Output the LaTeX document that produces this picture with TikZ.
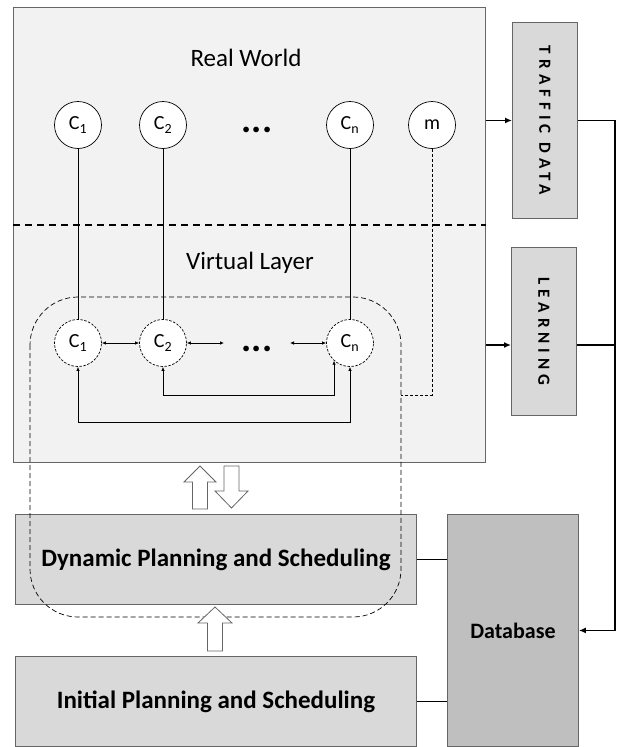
\documentclass[tikz,border=0pt]{standalone}
\usepackage{fontspec}
\setmainfont{Carlito}
\usetikzlibrary{arrows.meta}
\definecolor{worldfill}{HTML}{F2F2F2}
\definecolor{boxfill}{HTML}{D9D9D9}
\definecolor{dbfill}{HTML}{BFBFBF}
\definecolor{edge}{HTML}{666666}
\tikzset{
  panel/.style={draw=edge, line width=0.9pt, anchor=north west, inner sep=0pt},
  realnode/.style={circle, draw=black, line width=0.7pt, fill=white, minimum size=47pt, inner sep=0pt, font=\fontsize{20}{20}\selectfont},
  virtnode/.style={circle, draw=black, dashed, dash pattern=on 2.5pt off 1.5pt, line width=0.7pt, fill=white, minimum size=47pt, inner sep=0pt, font=\fontsize{20}{20}\selectfont},
  thinline/.style={line width=0.7pt},
  small2/.style={line width=0.7pt, {Latex[length=4pt,width=3.5pt]}-{Latex[length=4pt,width=3.5pt]}},
  bigarrow/.style={line width=1.6pt, -{Latex[length=7pt,width=6pt]}},
  busline/.style={line width=1.6pt},
  hollow/.style={draw=edge, fill=white, line width=0.8pt},
  spaced/.style={font=\fontsize{17}{17}\selectfont\bfseries\addfontfeature{LetterSpace=30}, rotate=-90},
  biglabel/.style={font=\fontsize{25}{25}\selectfont\bfseries},
  dblabel/.style={font=\fontsize{22}{22}\selectfont\bfseries},
  layerlabel/.style={font=\fontsize{25}{25}\selectfont},
  ellip/.style={font=\fontsize{38}{38}\selectfont\bfseries, inner sep=0pt}
}
\begin{document}
\begin{tikzpicture}[x=1pt, y=-1pt]
\useasboundingbox (0,0) rectangle (620,747);
% panels
\node[panel, fill=worldfill, minimum width=472pt, minimum height=455pt] (world) at (13,7) {};
\node[panel, fill=boxfill, minimum width=65pt, minimum height=196pt] (traffic) at (512,22) {};
\node[panel, fill=boxfill, minimum width=65pt, minimum height=168pt] (learning) at (511,247) {};
\node[panel, fill=boxfill, minimum width=401pt, minimum height=90pt] (dyn) at (15,514) {};
\node[panel, fill=boxfill, minimum width=401pt, minimum height=90pt] (init) at (15,656) {};
\node[panel, fill=dbfill, minimum width=131pt, minimum height=232pt] (db) at (447,514) {};
% labels of panels
\node[spaced] (trafficlbl) at (traffic.center) {TRAFFIC DATA};
\node[spaced] (learninglbl) at (learning.center) {LEARNING};
\node[biglabel] (dynlbl) at (dyn.center) {Dynamic Planning and Scheduling};
\node[biglabel] (initlbl) at (init.center) {Initial Planning and Scheduling};
\node[dblabel] (dblbl) at (db.center) {Database};
\node[layerlabel] (rwlbl) at (246,58) {Real World};
\node[layerlabel] (vllbl) at (250,263) {Virtual Layer};
% layer separator
\draw[line width=1.6pt, dash pattern=on 7pt off 5pt] (world.west |- 0,225) -- (world.east |- 0,225);
% dashed rounded region
\draw[dashed, dash pattern=on 5pt off 3pt, line width=0.7pt, rounded corners=48pt] (30,297) rectangle (401,617);
\coordinate (mend) at (401,395);
% real world nodes
\node[realnode] (c1t) at (78,125) {C\textsubscript{1}};
\node[realnode] (c2t) at (163,125) {C\textsubscript{2}};
\node[realnode] (cnt) at (350,125) {C\textsubscript{n}};
\node[realnode] (mt) at (432,125) {m};
\node[ellip] (dotst) at (257,130) {...};
% virtual nodes
\node[virtnode] (c1v) at (78,343) {C\textsubscript{1}};
\node[virtnode] (c2v) at (163,343) {C\textsubscript{2}};
\node[virtnode] (cnv) at (350,343) {C\textsubscript{n}};
\node[ellip] (dotsv) at (257,349) {...};
% vertical links
\draw[thinline] (c1t) -- (c1v);
\draw[thinline] (c2t) -- (c2v);
\draw[thinline] (cnt) -- (cnv);
\draw[thinline, dash pattern=on 3pt off 2pt] (mt.south) |- (mend);
% virtual links
\coordinate (a1) at (224,343);
\coordinate (a2) at (290,343);
\coordinate (fb1) at (0,395);
\coordinate (fb2) at (0,422);
\draw[small2] (c1v) -- (c2v);
\draw[small2] (c2v.east) -- (a1);
\draw[small2] (a2) -- (cnv.west);
\draw[small2] (c2v.south) -- (c2v.south |- fb1) -| (cnv.228);
\draw[small2] (c1v.south) -- (c1v.south |- fb2) -| (cnv.south);
% arrows to side boxes
\coordinate (la) at (0,345);
\coordinate (rail) at (615,0);
\draw[bigarrow] (world.east |- traffic.west) -- (traffic.west);
\draw[bigarrow] (world.east |- la) -- (learning.west |- la);
\draw[busline, -{Latex[length=7pt,width=6pt]}] (traffic.east) -| (rail |- db.east) -- (db.east);
\draw[busline] (learning.east |- la) -- (rail |- la);
\draw[busline] (dyn.east) -- (db.west |- dyn.east);
\draw[busline] (init.east) -- (db.west |- init.east);
% hollow arrows
\draw[hollow] (200,466) -- (216,482) -- (207.5,482) -- (207.5,509) -- (192.5,509) -- (192.5,482) -- (184,482) -- cycle;
\draw[hollow] (231.5,508) -- (248,491) -- (239,491) -- (239,466) -- (224,466) -- (224,491) -- (215,491) -- cycle;
\draw[hollow] (215,607) -- (232,623) -- (222.5,623) -- (222.5,651) -- (207.5,651) -- (207.5,623) -- (198,623) -- cycle;
\end{tikzpicture}
\end{document}
